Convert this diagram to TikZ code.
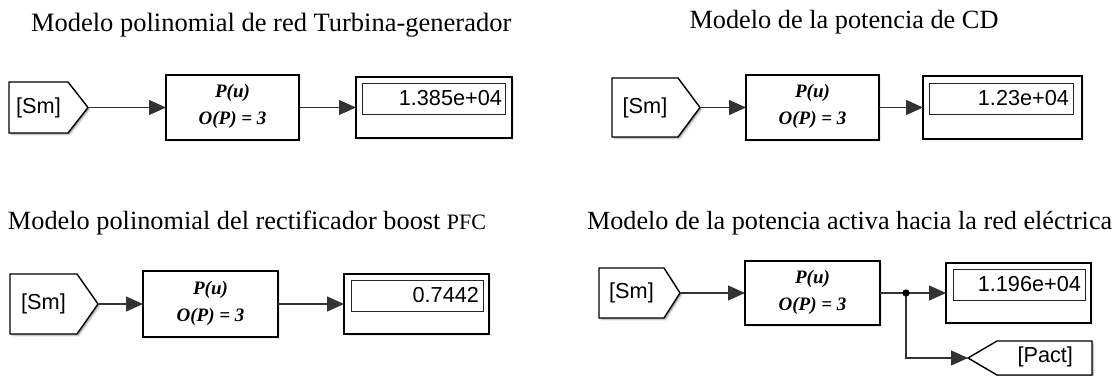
\documentclass[tikz,border=0pt]{standalone}
\usepackage{fontspec}
\setmainfont{Liberation Serif}
\newfontfamily\arialf{Liberation Sans}
\usetikzlibrary{arrows.meta,shadows,calc}

\tikzset{
  every node/.style={inner sep=0pt, outer sep=0pt},
  blk/.style={rectangle, draw=black, line width=1.4pt, fill=white,
    drop shadow={shadow xshift=2.4pt,shadow yshift=-2.4pt,fill=black!14},
    drop shadow={shadow xshift=1.3pt,shadow yshift=-1.3pt,fill=black!32}},
  innerbox/.style={rectangle, draw=black!85, line width=0.9pt},
  tagbox/.style={rectangle},
  tagline/.style={draw=black, line width=1.4pt, fill=white, line join=miter},
  blktxt/.style={font=\arialf\fontsize{21.7}{24}\selectfont},
  polytxt/.style={font=\bfseries\itshape\fontsize{19}{22}\selectfont},
  ttl/.style={font=\fontsize{26.3}{30}\selectfont},
  sig/.style={draw=black!80, line width=1.1pt, -{Triangle[length=17pt,width=15pt]}},
  wire/.style={draw=black!80, line width=1.1pt},
}

% right-pointing tag outline for node #1 with pointer depth #2
\newcommand{\rtagshape}[2]{%
  \foreach \sh/\cc in {2.4/14,1.3/32}{%
    \fill[black!\cc] ([shift={(\sh,\sh)}]#1.north west) -- ([shift={({\sh-#2},\sh)}]#1.north east)
      -- ([shift={(\sh,\sh)}]#1.east) -- ([shift={({\sh-#2},\sh)}]#1.south east)
      -- ([shift={(\sh,\sh)}]#1.south west) -- cycle;}
  \path[tagline] (#1.north west) -- ([xshift=-#2pt]#1.north east) -- (#1.east)
      -- ([xshift=-#2pt]#1.south east) -- (#1.south west) -- cycle;}
% left-pointing tag outline
\newcommand{\ltagshape}[2]{%
  \foreach \sh/\cc in {2.4/14,1.3/32}{%
    \fill[black!\cc] ([shift={(\sh,\sh)}]#1.west) -- ([shift={({\sh+#2},\sh)}]#1.north west)
      -- ([shift={(\sh,\sh)}]#1.north east) -- ([shift={(\sh,\sh)}]#1.south east)
      -- ([shift={({\sh+#2},\sh)}]#1.south west) -- cycle;}
  \path[tagline] (#1.west) -- ([xshift=#2pt]#1.north west) -- (#1.north east)
      -- (#1.south east) -- ([xshift=#2pt]#1.south west) -- cycle;}

\begin{document}
\begin{tikzpicture}[x=1pt,y=-1pt]
\useasboundingbox (0,0) rectangle (1118,375);

% ---------- Panel 1 ----------
\node[ttl, font=\fontsize{26.5}{30}\selectfont, anchor=base west] (ti1) at (31,31) {Modelo polinomial de red Turbina-generador};
\node[tagbox, minimum width=79pt, minimum height=51pt] (t1) at (48.5,107.5) {};
\rtagshape{t1}{20}
\node[blktxt] (t1x) at (38.5,107.5) {[Sm]};
\node[blk, minimum width=133pt, minimum height=65pt] (p1) at (232.5,107.5) {};
\node[polytxt] (p1a) at ([yshift=14.5pt]p1.center) {P(u)};
\node[polytxt] (p1b) at ([yshift=-12.5pt]p1.center) {O(P) = 3};
\node[blk, minimum width=156pt, minimum height=61pt] (d1) at (434,107.5) {};
\node[innerbox, minimum width=143pt, minimum height=31pt] (d1i) at (433.5,98.5) {};
\node[blktxt, anchor=east] (d1t) at ([xshift=-3pt]d1i.east) {1.385e+04};
\draw[sig] (t1.east) -- (p1.west);
\draw[sig] (p1.east) -- (d1.west);

% ---------- Panel 2 ----------
\node[ttl, anchor=base] (ti2) at (844,28.5) {Modelo de la potencia de CD};
\node[tagbox, minimum width=88pt, minimum height=59pt] (t2) at (656,107.5) {};
\rtagshape{t2}{22}
\node[blktxt] (t2x) at (645,107.5) {[Sm]};
\node[blk, minimum width=133pt, minimum height=65pt] (p2) at (812.5,107.5) {};
\node[polytxt] (p2a) at ([yshift=14.5pt]p2.center) {P(u)};
\node[polytxt] (p2b) at ([yshift=-12.5pt]p2.center) {O(P) = 3};
\node[blk, minimum width=159pt, minimum height=63pt] (d2) at (1002.5,107.5) {};
\node[innerbox, minimum width=144pt, minimum height=31pt] (d2i) at (1001,98.5) {};
\node[blktxt, anchor=east] (d2t) at ([xshift=-4pt]d2i.east) {1.23e+04};
\draw[sig] (t2.east) -- (p2.west);
\draw[sig] (p2.east) -- (d2.west);

% ---------- Panel 3 ----------
\node[ttl, anchor=base west] (ti3) at (8,229) {Modelo polinomial del rectificador boost {\fontsize{22}{24}\selectfont PFC}};
\node[tagbox, minimum width=88pt, minimum height=60pt] (t3) at (54,304) {};
\rtagshape{t3}{21}
\node[blktxt] (t3x) at (43.5,304) {[Sm]};
\node[blk, minimum width=135pt, minimum height=66pt] (p3) at (210.5,304) {};
\node[polytxt] (p3a) at ([yshift=14.5pt]p3.center) {P(u)};
\node[polytxt] (p3b) at ([yshift=-12.5pt]p3.center) {O(P) = 3};
\node[blk, minimum width=145pt, minimum height=60pt] (d3) at (416.5,304) {};
\node[innerbox, minimum width=132pt, minimum height=31pt] (d3i) at (417,295.5) {};
\node[blktxt, anchor=east] (d3t) at ([xshift=-4pt]d3i.east) {0.7442};
\draw[sig] (t3.east) -- (p3.west);
\draw[sig] (p3.east) -- (d3.west);

% ---------- Panel 4 ----------
\node[ttl, font=\fontsize{26.2}{30}\selectfont, anchor=base west] (ti4) at (587,229) {Modelo de la potencia activa hacia la red eléctrica};
\node[tagbox, minimum width=81pt, minimum height=50pt] (t4) at (639.5,293) {};
\rtagshape{t4}{16}
\node[blktxt] (t4x) at (631.5,293) {[Sm]};
\node[blk, minimum width=135pt, minimum height=64pt] (p4) at (812.5,293) {};
\node[polytxt] (p4a) at ([yshift=14.5pt]p4.center) {P(u)};
\node[polytxt] (p4b) at ([yshift=-12.5pt]p4.center) {O(P) = 3};
\node[blk, minimum width=145pt, minimum height=60pt] (d4) at (1018.5,293) {};
\node[innerbox, minimum width=132pt, minimum height=31pt] (d4i) at (1019,284.5) {};
\node[blktxt, anchor=east] (d4t) at ([xshift=-4pt]d4i.east) {1.196e+04};
\node[tagbox, minimum width=124pt, minimum height=34pt] (g4) at (1030,358) {};
\ltagshape{g4}{29}
\node[blktxt, anchor=east] (g4x) at (1073,357) {[Pact]};
\coordinate (j4) at (906,293);
\draw[sig] (t4.east) -- (p4.west);
\draw[wire] (p4.east) -- (j4);
\draw[sig] (j4) -- (d4.west);
\draw[sig] (j4) |- (g4.west);
\fill[black] (j4) circle (3.6);
\end{tikzpicture}
\end{document}
